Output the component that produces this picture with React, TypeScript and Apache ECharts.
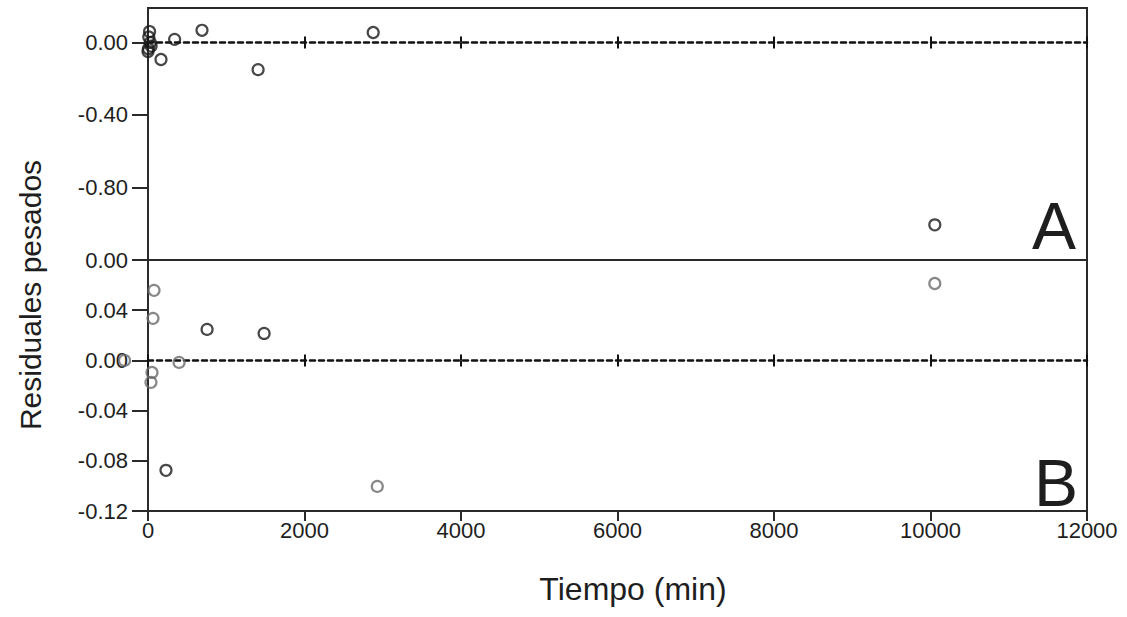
import React, { useEffect, useRef } from "react";
import * as echarts from "echarts";

// X axis (Tiempo, min)
const xTicks = [0, 2000, 4000, 6000, 8000, 10000, 12000];

// Panel A – weighted residuals
const timeA = [0, 20, 40, 10, 30, 5, 166, 340, 690, 1407, 2878, 10055];
const resA = [-0.05, 0.06, -0.02, 0.03, 0.0, -0.035, -0.094, 0.017, 0.067, -0.15, 0.055, -1.006];
const ticksA = [-1.2, -0.8, -0.4, 0];
const labelsA = [-0.8, -0.4, 0];

// Panel B – weighted residuals (dark and grey markers)
const timeBDark = [755, 1484, 230];
const resBDark = [0.0247, 0.0215, -0.0876];
const timeBGrey = [-300, 77, 64, 397, 51, 38, 2930, 10055];
const resBGrey = [0.0, 0.0558, 0.0335, -0.0016, -0.0096, -0.0175, -0.1004, 0.0613];

const FONT = "'Liberation Sans', Arial, Helvetica, sans-serif";
const INK = "#1e1e1e";

export default function App() {
  const ref = useRef<HTMLDivElement>(null);
  useEffect(() => {
    const chart = echarts.init(ref.current!, null, { renderer: "svg" });
    const pair = (xs: number[], ys: number[]) => xs.map((x, i) => [x, ys[i]]);
    const labelStyle = { fontSize: 22, color: INK, fontFamily: FONT };
    const grids = [
      { left: 148, right: 40, top: 8, height: 252 },
      { left: 148, right: 40, top: 260, height: 251 },
    ];
    const scatterStyle = (c: string) => ({
      type: "scatter" as const,
      symbol: "circle",
      symbolSize: 11,
      clip: false,
      itemStyle: { color: "rgba(0,0,0,0)", borderColor: c, borderWidth: 2.2 },
    });
    const dashed = { color: "#111", width: 2.5, type: [5, 4] };
    const crossTick = { show: true, length: 6, lineStyle: { color: "#111", width: 2 } };
    const zeroAxis = (grid: number, yIdx: number, position: string, line: boolean, inside: boolean) => ({
      type: "value", gridIndex: grid, min: 0, max: 12000, interval: 2000, position,
      axisLine: { show: line, onZero: true, onZeroAxisIndex: yIdx, lineStyle: dashed },
      axisTick: { ...crossTick, inside },
      axisLabel: { show: false }, splitLine: { show: false },
    });
    chart.setOption({
      animation: false,
      backgroundColor: "#ffffff",
      grid: grids.map((g) => ({ ...g, show: true, borderColor: "#2a2a2a", borderWidth: 2, backgroundColor: "transparent" })),
      xAxis: [
        zeroAxis(0, 0, "bottom", true, false),
        zeroAxis(0, 0, "top", false, false),
        // panel B bottom axis with labels
        {
          type: "value", gridIndex: 1, min: 0, max: 12000, interval: 2000, position: "bottom",
          axisLine: { show: true, onZero: false, lineStyle: { color: "#2a2a2a", width: 2 } },
          axisTick: { show: true, length: 10, lineStyle: { color: "#2a2a2a", width: 2 } },
          axisLabel: { ...labelStyle, margin: 8, customValues: xTicks, formatter: (v: number) => String(v) },
          splitLine: { show: false },
        },
        zeroAxis(1, 1, "top", true, false),
        zeroAxis(1, 1, "top", false, true),
      ],
      yAxis: [
        {
          type: "value", gridIndex: 0, min: -1.2, max: 0.19,
          axisLine: { show: true, onZero: false, lineStyle: { color: "#2a2a2a", width: 2 } },
          axisTick: { show: true, length: 16, customValues: ticksA, lineStyle: { color: "#2a2a2a", width: 2 } },
          axisLabel: { ...labelStyle, margin: 20, customValues: labelsA, formatter: (v: number) => (Math.abs(v) < 1e-9 ? "0.00" : v.toFixed(2)) },
          splitLine: { show: false },
        },
        {
          type: "value", gridIndex: 1, min: -0.12, max: 0.08, interval: 0.04,
          axisLine: { show: true, onZero: false, lineStyle: { color: "#2a2a2a", width: 2 } },
          axisTick: { show: true, length: 16, lineStyle: { color: "#2a2a2a", width: 2 } },
          axisLabel: {
            ...labelStyle, margin: 20, showMaxLabel: true,
            formatter: (v: number) => (Math.abs(v) < 1e-9 || Math.abs(v - 0.08) < 1e-9 ? "0.00" : v.toFixed(2)),
          },
          splitLine: { show: false },
        },
      ],
      series: [
        { ...scatterStyle("#1a1a1a"), xAxisIndex: 0, yAxisIndex: 0, data: pair(timeA, resA) },
        { ...scatterStyle("#1a1a1a"), xAxisIndex: 2, yAxisIndex: 1, data: pair(timeBDark, resBDark) },
        { ...scatterStyle("#6a6a6a"), xAxisIndex: 2, yAxisIndex: 1, data: pair(timeBGrey, resBGrey) },
      ],
      graphic: [
        { type: "text", x: 1076, y: 226, style: { text: "A", font: `66px ${FONT}`, fill: INK, textAlign: "right", textVerticalAlign: "middle" } },
        { type: "text", x: 1078, y: 483, style: { text: "B", font: `66px ${FONT}`, fill: INK, textAlign: "right", textVerticalAlign: "middle" } },
        { type: "text", x: 633, y: 589, style: { text: "Tiempo (min)", font: `32px ${FONT}`, fill: INK, textAlign: "center", textVerticalAlign: "middle" } },
        { type: "text", x: 30, y: 295, rotation: Math.PI / 2, style: { text: "Residuales pesados", font: `30px ${FONT}`, fill: INK, textAlign: "center", textVerticalAlign: "middle" } },
      ],
    });
    return () => chart.dispose();
  }, []);
  return <div ref={ref} style={{ position: "absolute", left: 0, top: 0, width: 1127, height: 617 }} />;
}
